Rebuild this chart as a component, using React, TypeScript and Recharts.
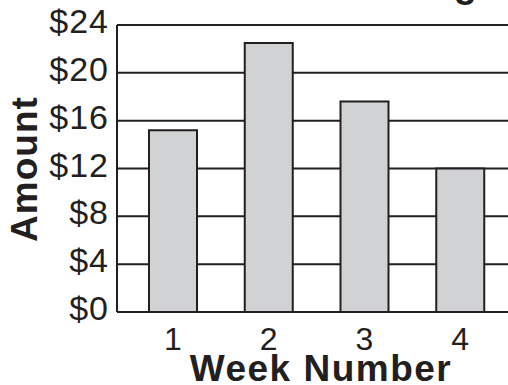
import React from 'react';
import { BarChart, Bar, XAxis, YAxis, CartesianGrid } from 'recharts';

// Weekly amounts
const weeks = ['1', '2', '3', '4'];
const amounts = [15.2, 22.5, 17.6, 12];
const yTicks = [0, 4, 8, 12, 16, 20, 24];

const INK = '#231f20';
const FONT = '"Liberation Sans", Arial, Helvetica, sans-serif';

const YTick = ({ x, y, payload }: any) => (
    <text x={x} y={y + 8} textAnchor="end" fill={INK} fontFamily={FONT} fontSize={34} letterSpacing={1}>
        ${payload.value}
    </text>
);

const XTick = ({ x, y, payload }: any) => (
    <text x={x} y={y + 38} textAnchor="middle" fill={INK} fontFamily={FONT} fontSize={32}>
        {payload.value}
    </text>
);

const App: React.FC = () => {
    const data = weeks.map((w, i) => ({ week: w, amount: amounts[i] }));

    return (
        <div style={{ position: 'absolute', left: 0, top: 0, width: 508, height: 385, background: '#fff' }}>
            <BarChart
                width={508}
                height={385}
                data={data}
                margin={{ top: 25, right: 0, left: 0, bottom: 0 }}
                barCategoryGap={0}
            >
                <CartesianGrid vertical={false} stroke={INK} strokeWidth={2} />
                <XAxis
                    dataKey="week"
                    height={73}
                    padding={{ left: 8, right: 0 }}
                    axisLine={{ stroke: INK, strokeWidth: 2 }}
                    tickLine={false}
                    tickSize={0}
                    tickMargin={0}
                    tick={<XTick />}
                    interval={0}
                />
                <YAxis
                    width={117}
                    domain={[0, 24]}
                    ticks={yTicks}
                    axisLine={{ stroke: INK, strokeWidth: 2 }}
                    tickLine={false}
                    tickSize={0}
                    tickMargin={8}
                    tick={<YTick />}
                    interval={0}
                />
                <Bar
                    dataKey="amount"
                    barSize={48}
                    fill="#d1d2d4"
                    stroke={INK}
                    strokeWidth={2}
                    isAnimationActive={false}
                />
            </BarChart>

            {/* title (runs off the top edge) and axis titles */}
            <svg
                width={508}
                height={385}
                style={{ position: 'absolute', left: 0, top: 0, pointerEvents: 'none' }}
            >
                <text x={477} y={-3} textAnchor="end" fill={INK} fontFamily={FONT} fontWeight="bold" fontSize={38}>
                    Cash Earned Mowing
                </text>
                <text
                    x={37}
                    y={169}
                    transform="rotate(-90, 37, 169)"
                    textAnchor="middle"
                    fill={INK}
                    fontFamily={FONT}
                    fontWeight="bold"
                    fontSize={37}
                    letterSpacing={1}
                >
                    Amount
                </text>
                <text
                    x={321}
                    y={381}
                    textAnchor="middle"
                    fill={INK}
                    fontFamily={FONT}
                    fontWeight="bold"
                    fontSize={37}
                    letterSpacing={1.5}
                >
                    Week Number
                </text>
            </svg>
        </div>
    );
};

export default App;
